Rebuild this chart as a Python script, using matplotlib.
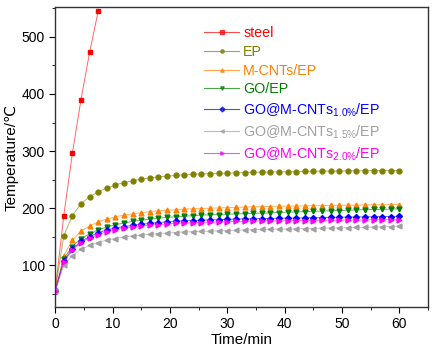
import numpy as np
import matplotlib
matplotlib.use("Agg")
from matplotlib import pyplot as plt
from matplotlib.ticker import MultipleLocator
from matplotlib.lines import Line2D

plt.rcParams['font.family'] = ['Liberation Sans', 'DejaVu Sans']
plt.rcParams['mathtext.default'] = 'regular'

# time axis, one reading every 1.5 min
t = np.arange(0, 60.01, 1.5)
t_steel = t[:6]

steel = [55, 187, 296, 390, 473, 545]
ep = [55, 152, 187, 208, 220, 229, 235, 241, 245, 248, 251, 253, 255, 256, 257.5, 258.5,
      259.5, 260, 260.5, 261, 261.5, 262, 262.5, 263, 263, 263.5, 263.5, 264, 264, 264.5,
      264.5, 265, 265, 265, 265.5, 265.5, 265.5, 266, 266, 266, 266]
mcnt = [55, 117, 144, 160, 169, 176, 181, 185, 188, 190, 192, 194, 195.5, 196.5, 197.5, 198.5,
        199, 199.5, 200, 200.5, 201, 201.5, 202, 202.5, 203, 203, 203.5, 203.5, 204, 204,
        204.5, 204.5, 205, 205, 205.5, 205.5, 206, 206, 206, 206.5, 206.5]
go = [55, 112, 133, 147, 155, 162, 167, 171, 174, 177, 179, 181, 182.5, 184, 185, 186,
      187, 188, 188.5, 189, 189.5, 190, 190.5, 191, 191.5, 192, 192.5, 193, 193.5, 194,
      194.5, 195, 195.5, 196, 196.5, 197, 197.5, 198, 198, 198.5, 199]
go10 = [55, 108, 129, 142, 150, 157, 162, 165.5, 168, 170, 172, 173.5, 175, 176, 177, 178,
        178.5, 179, 179.5, 180, 180.5, 181, 181.5, 181.5, 182, 182, 182.5, 182.5, 183, 183,
        183.5, 183.5, 184, 184, 184.5, 184.5, 185, 185, 185.5, 185.5, 186]
go15 = [55, 100, 117, 128, 135, 140, 144, 147, 149.5, 151.5, 153, 154.5, 155.5, 156.5, 157.5,
        158.5, 159, 159.5, 160, 160.5, 161, 161.5, 162, 162.5, 163, 163, 163.5, 163.5, 164,
        164.5, 164.5, 165, 165.5, 165.5, 166, 166.5, 166.5, 167, 167.5, 168, 168.5]
go20 = [55, 106, 127, 140, 148, 154, 159, 162.5, 165, 167, 169, 170.5, 171.5, 172.5, 173.5,
        174, 174.5, 175, 175.5, 176, 176.5, 177, 177, 177.5, 177.5, 178, 178, 178, 178.5,
        178.5, 178.5, 179, 179, 179, 179.5, 179.5, 179.5, 180, 180, 180, 180]

labels = ['steel', 'EP', 'M-CNTs/EP', 'GO/EP', 'GO@M-CNTs$_{1.0\\%}$/EP',
          'GO@M-CNTs$_{1.5\\%}$/EP', 'GO@M-CNTs$_{2.0\\%}$/EP']
colors = ['#ff0000', '#808000', '#ff8000', '#008000', '#0000ff', '#a0a0a0', '#ff00ff']
markers = ['s', 'o', '^', 'v', 'D', '<', '>']
msizes = [3, 3.5, 3.5, 3.5, 3, 3.5, 3.5]
series = [steel, ep, mcnt, go, go10, go15, go20]

fig = plt.figure(figsize=(4.45, 3.55), dpi=100)
ax = fig.add_axes([0.124, 0.135, 0.838, 0.845])

for i in range(len(series)):
    x = t_steel if i == 0 else t
    ax.plot(x, series[i], color=colors[i], lw=0.7, alpha=0.6)
    ax.plot(x, series[i], color=colors[i], marker=markers[i], ms=msizes[i],
            lw=0, mec=colors[i])

ax.set_xlim(0, 65)
ax.set_ylim(27, 552)
ax.xaxis.set_major_locator(MultipleLocator(10))
ax.xaxis.set_minor_locator(MultipleLocator(5))
ax.yaxis.set_major_locator(MultipleLocator(100))
ax.yaxis.set_minor_locator(MultipleLocator(50))
ax.tick_params(which='both', direction='out', top=False, right=False, labelsize=10)
ax.tick_params(which='major', length=4)
ax.tick_params(which='minor', length=2.5)
for s in ax.spines.values():
    s.set_linewidth(1.0)
    s.set_color('#333333')

ax.set_xlabel('Time/min', fontsize=11)
ax.set_ylabel('Temperature/℃', fontsize=11, labelpad=2)
ax.xaxis.set_label_coords(0.5, -0.085)

# legend: line + small marker handles, text in series colour
handles = [Line2D([], [], color=colors[i], lw=0.8, alpha=0.7, marker=markers[i], ms=2.5,
                  mfc=colors[i], mec=colors[i]) for i in range(len(labels))]
leg = ax.legend(handles, labels, loc='upper left', bbox_to_anchor=(0.385, 0.955), frameon=False,
                fontsize=10.3, handlelength=2.4, labelspacing=0.33, handletextpad=0.3,
                borderaxespad=0)
for txt, c in zip(leg.get_texts(), colors):
    txt.set_color(c)

fig.savefig('out.png', dpi=100)
